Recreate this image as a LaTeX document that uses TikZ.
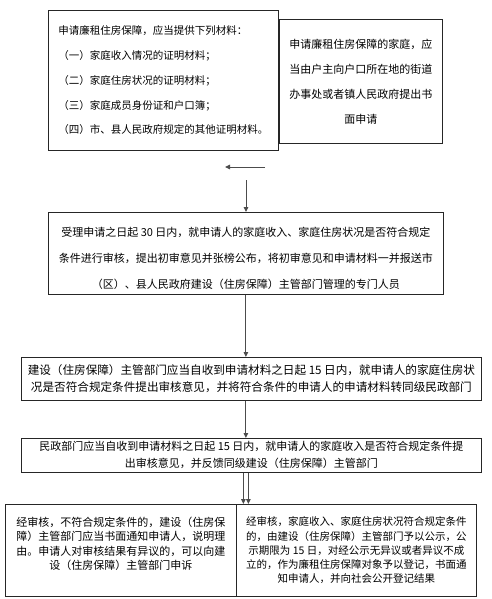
\documentclass[tikz,border=0pt]{standalone}
\usepackage{fontspec}
\newfontfamily\cjk{Noto Sans CJK SC}
\usetikzlibrary{arrows.meta,positioning}

\begin{document}
\begin{tikzpicture}[
    x=1pt, y=-1pt,
    every node/.style={font=\cjk\fontsize{11}{25}\selectfont},
    stage/.style={rectangle, draw=black!85, line width=0.8pt, inner sep=0pt, anchor=north west, align=center},
    arrow/.style={-{Triangle[length=5pt,width=4.5pt]}, line width=1pt, black!70},
]
\useasboundingbox (0,0) rectangle (492,599);
\node[stage, align=left, minimum width=230pt, minimum height=140pt, font=\cjk\fontsize{10.5}{24.8}\selectfont] (materials) at (48,10)
  {申请廉租住房保障，应当提供下列材料：\\（一）家庭收入情况的证明材料；\\（二）家庭住房状况的证明材料；\\（三）家庭成员身份证和户口簿；\\（四）市、县人民政府规定的其他证明材料。};
\node[stage, minimum width=163pt, minimum height=124pt] (apply) at (279,19)
  {申请廉租住房保障的家庭，应\\当由户主向户口所在地的街道\\办事处或者镇人民政府提出书\\面申请};
\node[stage, minimum width=395pt, minimum height=82pt, font=\cjk\fontsize{11}{26}\selectfont] (check) at (48,212)
  {\rule{0pt}{20pt}受理申请之日起 30 日内，就申请人的家庭收入、家庭住房状况是否符合规定\\条件进行审核，提出初审意见并张榜公布，将初审意见和申请材料一并报送市\\（区）、县人民政府建设（住房保障）主管部门管理的专门人员};
\node[stage, minimum width=460pt, minimum height=43pt, font=\cjk\fontsize{11.6}{17}\selectfont] (review) at (21,357)
  {建设（住房保障）主管部门应当自收到申请材料之日起 15 日内，就申请人的家庭住房状\\况是否符合规定条件提出审核意见，并将符合条件的申请人的申请材料转同级民政部门};
\node[stage, minimum width=460pt, minimum height=34pt, font=\cjk\fontsize{11}{17}\selectfont] (civil) at (21,438)
  {民政部门应当自收到申请材料之日起 15 日内，就申请人的家庭收入是否符合规定条件提\\出审核意见，并反馈同级建设（住房保障）主管部门};
\node[stage, minimum width=231pt, minimum height=92pt, font=\cjk\fontsize{11}{14.5}\selectfont] (reject) at (5,504)
  {经审核，不符合规定条件的，建设（住房保\\障）主管部门应当书面通知申请人，说明理\\由。申请人对审核结果有异议的，可以向建\\设（住房保障）主管部门申诉\\~};
\node[stage, minimum width=240pt, minimum height=92pt, font=\cjk\fontsize{10.5}{14.3}\selectfont] (accept) at (236,504)
  {经审核，家庭收入、家庭住房状况符合规定条件\\的，由建设（住房保障）主管部门予以公示，公\\示期限为 15 日，对经公示无异议或者异议不成\\立的，作为廉租住房保障对象予以登记，书面通\\知申请人，并向社会公开登记结果};
\coordinate (turnR) at (265,167);
\coordinate (turnL) at (225,167);
\coordinate (down) at (246,180);
\draw[arrow] (turnR) -- (turnL);
\draw[arrow] (down) -- (down |- check.north);
\draw[arrow] (check.south) -- (check.south |- review.north);
\draw[arrow] (check.south |- review.south) -- (check.south |- civil.north);
\draw[arrow] ([xshift=-2.5pt]check.south |- civil.south) -- ([xshift=-2.5pt]check.south |- reject.north);
\draw[arrow] ([xshift=2.5pt]check.south |- civil.south) -- ([xshift=2.5pt]check.south |- accept.north);
\end{tikzpicture}
\end{document}
